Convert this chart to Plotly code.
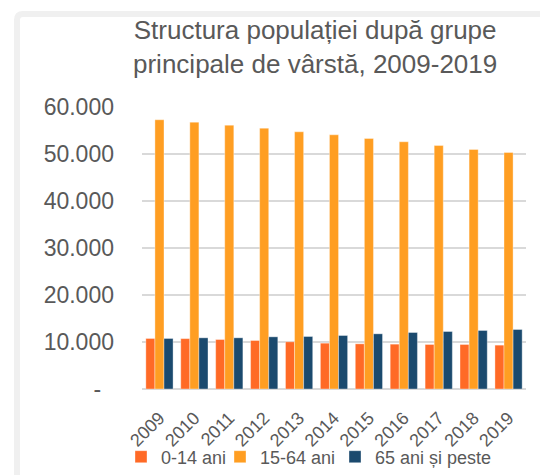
import plotly.graph_objects as go

years = ["2009", "2010", "2011", "2012", "2013", "2014", "2015", "2016", "2017", "2018", "2019"]
ages_0_14 = [10750, 10720, 10530, 10320, 10040, 9750, 9610, 9540, 9470, 9470, 9330]
ages_15_64 = [57280, 56770, 56130, 55490, 54720, 54080, 53300, 52600, 51800, 50960, 50320]
ages_65_plus = [10750, 10890, 10890, 11100, 11170, 11380, 11740, 12020, 12230, 12450, 12660]

series_names = ["0-14 ani", "15-64 ani", "65 ani și peste"]
colors = ["#FF6A26", "#FF9E22", "#1B4A6E"]

title_text = "Structura populației după grupe<br>principale de vârstă, 2009-2019"

y_tickvals = [0, 10000, 20000, 30000, 40000, 50000, 60000]
y_ticktext = ["-\u00a0\u00a0", "10.000", "20.000", "30.000", "40.000", "50.000", "60.000"]

# page body has an 8px margin, so the figure is drawn at (8, 8)
OFF = 8
W, H = 548 - OFF, 475 - OFF
ML, MR, MT, MB = 134, 22, 99, 86
PW, PH = W - ML - MR, H - MT - MB


def px(x):
    return (x - ML) / PW


def py(y):
    return (H - MB - y) / PH


legend_widths = [54, 70, 118]

fig = go.Figure()
for name, vals, c, lw in zip(series_names, [ages_0_14, ages_15_64, ages_65_plus], colors, legend_widths):
    fig.add_trace(go.Bar(
        x=years, y=vals, name=name, legendwidth=lw,
        marker=dict(color=c, line=dict(color="rgba(255,255,255,0.6)", width=0.6)),
    ))

# light grey rounded frame
x0, y0, r = 9, 6, 6
frame_path = (
    f"M {px(x0)},{py(H + 20)} L {px(x0)},{py(y0 + r)} "
    f"Q {px(x0)},{py(y0)} {px(x0 + r)},{py(y0)} L {px(W + 20)},{py(y0)}"
)
fig.add_shape(type="path", path=frame_path, xref="paper", yref="paper",
              line=dict(color="#F0F0F0", width=6), layer="below")

fig.add_annotation(
    text=title_text, xref="paper", yref="paper",
    x=px(307), y=py(39), xanchor="center", yanchor="middle",
    showarrow=False, font=dict(size=26, color="#595959"),
)

fig.update_layout(
    width=W, height=H,
    margin=dict(l=ML, r=MR, t=MT, b=MB, autoexpand=False),
    paper_bgcolor="white", plot_bgcolor="white",
    font=dict(family="Liberation Sans, Arial, sans-serif", color="#595959"),
    barmode="group", bargap=0.22, bargroupgap=0,
    showlegend=True,
    legend=dict(
        orientation="h", x=px(113), xanchor="left",
        y=py(449), yanchor="middle",
        font=dict(size=18, color="#595959"),
        itemwidth=30, traceorder="normal", bgcolor="rgba(0,0,0,0)",
    ),
    xaxis=dict(
        tickangle=-45, tickfont=dict(size=18, color="#595959"),
        showgrid=False, ticks="", showline=False, ticklabelstandoff=14,
        automargin=False,
    ),
    yaxis=dict(
        range=[0, 60000], tickvals=y_tickvals, ticktext=y_ticktext,
        tickfont=dict(size=23, color="#595959"),
        showgrid=True, gridcolor="#D9D9D9", gridwidth=1.5,
        zeroline=True, zerolinecolor="#D9D9D9", zerolinewidth=2,
        ticks="", showline=False, ticklabelstandoff=27, automargin=False,
    ),
)

fig.write_html("out.html")
